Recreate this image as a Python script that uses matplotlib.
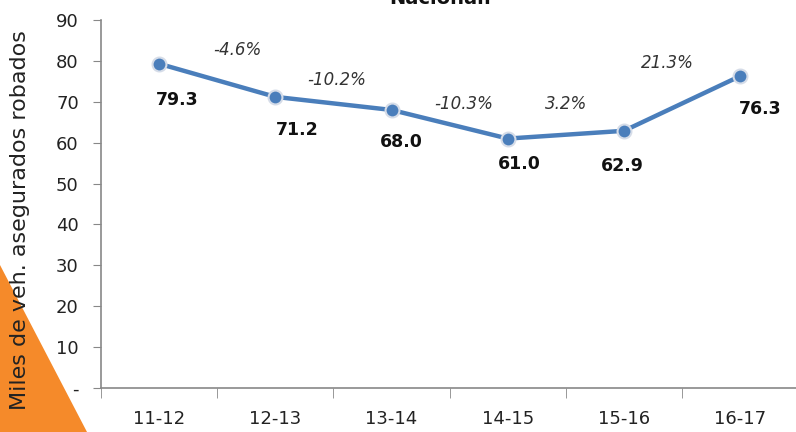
import numpy as np
import matplotlib.pyplot as plt
from matplotlib.patches import Polygon

# Data
periods = ['11-12', '12-13', '13-14', '14-15', '15-16', '16-17']
robbed = [79.3, 71.2, 68.0, 61.0, 62.9, 76.3]
changes = ['-4.6%', '-10.2%', '-10.3%', '3.2%', '21.3%']
yticks = [0, 10, 20, 30, 40, 50, 60, 70, 80, 90]
ytick_labels = ['-', '10', '20', '30', '40', '50', '60', '70', '80', '90']

# label offsets in pixels (dx, dy)
value_offsets = [(18, -36), (22, -33), (10, -32), (12, -25), (-2, -35), (20, -33)]
change_offsets = [(20, 30), (3, 23), (14, 20), (0, 31), (-15, 40)]

line_color = '#4A7EBB'
W, H = 796, 432

fig = plt.figure(figsize=(W / 100, H / 100), dpi=100)

# orange corner triangle
tri = Polygon([(0, 0), (0, (H - 265) / H), (87 / W, 0)], closed=True,
              transform=fig.transFigure, facecolor='#F58A2A', edgecolor='none', zorder=-5)
fig.patches.append(tri)

ax = fig.add_axes([101 / W, 44 / H, 1.003 - 101 / W, (388 - 20) / H])
ax.set_facecolor('none')

x = np.arange(len(periods))
ax.plot(x, robbed, color=line_color, linewidth=3.2, marker='o', markersize=10,
        markerfacecolor=line_color, markeredgecolor='#D5DCE8', markeredgewidth=1.5, zorder=3)

px = 72 / 100  # pixels to points
for i, v in enumerate(robbed):
    dx, dy = value_offsets[i]
    ax.annotate(f'{v:.1f}', (x[i], v), xytext=(dx * px, dy * px), textcoords='offset points',
                ha='center', va='center', fontsize=12.5, fontweight='bold', color='#111111')

for i, c in enumerate(changes):
    mx = (x[i] + x[i + 1]) / 2
    my = (robbed[i] + robbed[i + 1]) / 2
    dx, dy = change_offsets[i]
    ax.annotate(c, (mx, my), xytext=(dx * px, dy * px), textcoords='offset points',
                ha='center', va='center', fontsize=12, fontstyle='italic', color='#333333')

ax.set_xlim(-0.5, len(periods) - 0.5)
ax.set_ylim(0, 90)
ax.set_yticks(yticks)
ax.set_yticklabels(ytick_labels)
ax.set_xticks(x)
ax.set_xticklabels(periods)
ax.set_xticks(np.arange(-0.5, len(periods)), minor=True)
ax.tick_params(axis='x', which='major', length=0, pad=16, labelsize=13, colors='#222222')
ax.tick_params(axis='x', which='minor', length=7, color='#888888')
ax.tick_params(axis='y', length=6, color='#888888', labelsize=13, labelcolor='#222222', pad=10)

for s in ['top', 'right']:
    ax.spines[s].set_visible(False)
for s in ['left', 'bottom']:
    ax.spines[s].set_color('#888888')
    ax.spines[s].set_linewidth(1.2)

ax.set_ylabel('Miles de veh. asegurados robados', fontsize=16, color='#222222')
ax.yaxis.set_label_coords(-71 / (W - 101), 0.457)
ax.yaxis.label.set_zorder(10)

fig.text(0.553, 1 - 4 / H, 'Nacional.', ha='center', va='baseline', fontsize=14,
         fontweight='bold', color='#111111')

fig.savefig('out.png', dpi=100)
